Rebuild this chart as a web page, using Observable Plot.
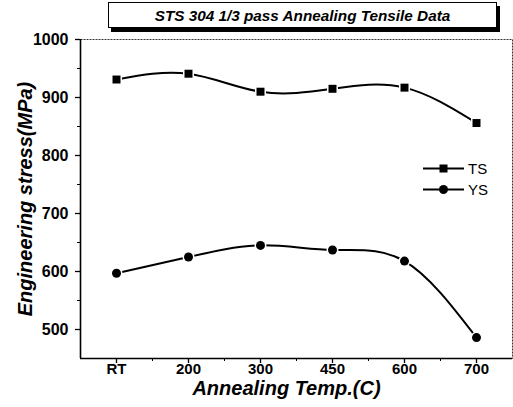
<!DOCTYPE html>
<html>
<head>
<meta charset="utf-8">
<script src="https://cdn.jsdelivr.net/npm/d3@7"></script>
<script src="https://cdn.jsdelivr.net/npm/@observablehq/plot@0.6"></script>
<style>
  body { margin: 0; background: #fff; }
  #wrap { position: relative; width: 513px; height: 407px; font-family: "Liberation Sans", Arial, sans-serif; }
  #title {
    position: absolute; left: 108px; top: 2px; width: 387px; height: 24px;
    border: 1px solid #000; box-shadow: 3px 4px 0 #000; background: #fff;
    font-weight: bold; font-style: italic; font-size: 15.3px; line-height: 25px; text-align: center;
  }
  #legend { position: absolute; left: 423px; top: 158px; font-size: 15px; }
  .lg { display: flex; align-items: center; height: 21px; }
  .lg span { margin-left: 3px; }
</style>
</head>
<body>
<div id="wrap">
  <div id="chart"></div>
  <div id="title">STS 304 1/3 pass Annealing Tensile Data</div>
  <div id="legend"></div>
</div>
<script>
const categories = ["RT", "200", "300", "450", "600", "700"];
const tsValues = [931, 941, 910, 915, 917, 856];
const ysValues = [597, 625, 645, 637, 618, 486];
const yTicks = [500, 600, 700, 800, 900, 1000];
const yMinorTicks = [550, 650, 750, 850, 950];
const seriesNames = ["TS", "YS"];

const rows = categories.map((c, i) => ({i, cat: c, ts: tsValues[i], ys: ysValues[i]}));
const xIdx = categories.map((c, i) => i);
const xMinor = categories.slice(1).map((c, i) => i + 0.5);

const plot = Plot.plot({
  width: 513,
  height: 407,
  marginLeft: 80,
  marginRight: 1,
  marginTop: 39,
  marginBottom: 49,
  style: {fontFamily: "'Liberation Sans', Arial, sans-serif", color: "#000", background: "#fff"},
  x: {domain: [-0.5, categories.length - 0.5]},
  y: {domain: [450, 1000]},
  marks: [
    Plot.frame({stroke: "#333", strokeWidth: 1, strokeDasharray: "2,1"}),
    Plot.ruleX([-0.5], {stroke: "#000", strokeWidth: 1.6}),
    Plot.ruleY([450], {stroke: "#000", strokeWidth: 1.6}),
    Plot.axisY({ticks: yTicks, tickFormat: d => String(d), tickSize: 5, tickPadding: 7, fontSize: 16, fontWeight: "bold", label: null, strokeWidth: 1.3}),
    Plot.axisY({ticks: yMinorTicks, tickSize: 3, text: null, label: null}),
    Plot.axisX({ticks: xIdx, tickFormat: i => categories[i], tickSize: 5, tickPadding: 0, fontSize: 15, fontWeight: "bold", label: null, strokeWidth: 1.3}),
    Plot.axisX({ticks: xMinor, tickSize: 3, text: null, label: null}),
    Plot.text(["Engineering stress(MPa)"], {frameAnchor: "left", dx: -55, rotate: -90, textAnchor: "middle", lineAnchor: "middle", fontSize: 20, fontWeight: "bold", fontStyle: "italic"}),
    Plot.text(["Annealing Temp.(C)"], {frameAnchor: "bottom", dy: 30, dx: -10, textAnchor: "middle", lineAnchor: "middle", fontSize: 20, fontWeight: "bold", fontStyle: "italic"}),
    Plot.line(rows, {x: "i", y: "ts", curve: "natural", stroke: "#000", strokeWidth: 2}),
    Plot.line(rows, {x: "i", y: "ys", curve: "natural", stroke: "#000", strokeWidth: 2}),
    Plot.dot(rows, {x: "i", y: "ts", symbol: "square", r: 4.5, fill: "#000", stroke: "#fff", strokeWidth: 3, paintOrder: "stroke"}),
    Plot.dot(rows, {x: "i", y: "ys", symbol: "circle", r: 4.5, fill: "#000", stroke: "#fff", strokeWidth: 3, paintOrder: "stroke"})
  ]
});
document.getElementById("chart").appendChild(plot);

const legend = document.getElementById("legend");
seriesNames.forEach((name, k) => {
  const row = document.createElement("div");
  row.className = "lg";
  const marker = k === 0
    ? '<rect x="16.5" y="6.5" width="8" height="8" fill="#000"/>'
    : '<circle cx="20.5" cy="10.5" r="4.5" fill="#000"/>';
  row.innerHTML = '<svg width="42" height="21"><line x1="0" x2="41" y1="10.5" y2="10.5" stroke="#000" stroke-width="2"/>' + marker + '</svg><span>' + name + '</span>';
  legend.appendChild(row);
});
</script>
</body>
</html>
